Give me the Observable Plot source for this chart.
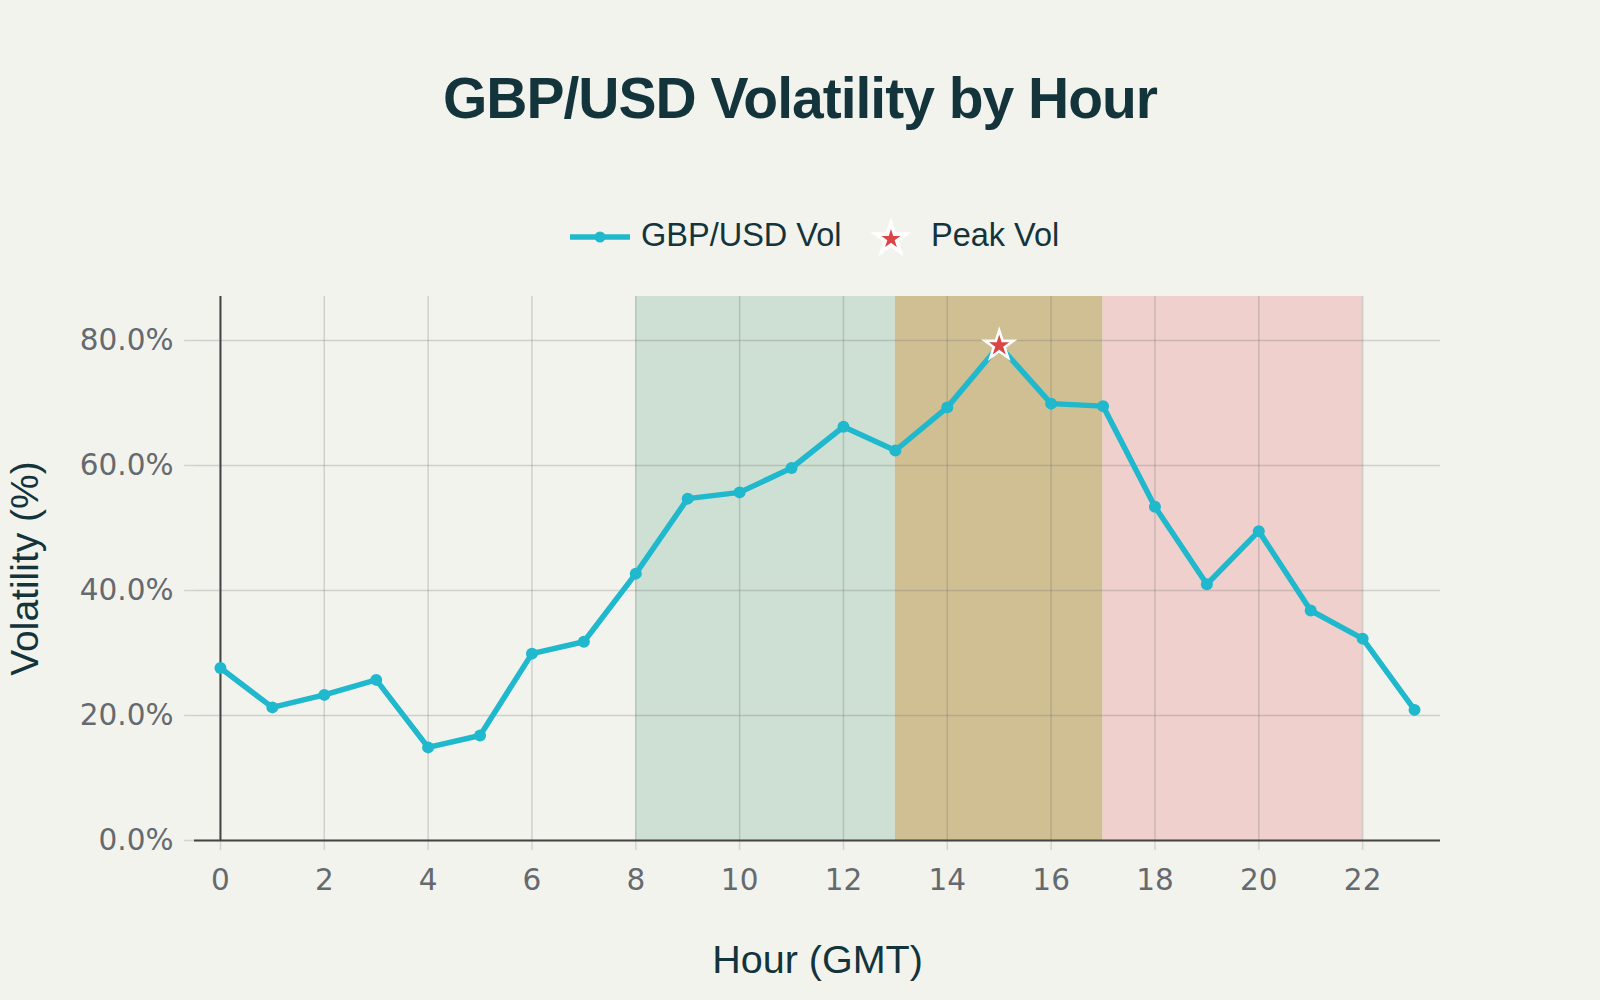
<!DOCTYPE html>
<html>
<head>
<meta charset="utf-8">
<script src="https://cdn.jsdelivr.net/npm/d3@7"></script>
<script src="https://cdn.jsdelivr.net/npm/@observablehq/plot@0.6"></script>
<style>
  html, body { margin: 0; padding: 0; background: #f3f3ee; }
  #wrap { position: relative; width: 1600px; height: 1000px; overflow: hidden;
          font-family: "Liberation Sans", Arial, sans-serif; color: #13343b; }
  #title { position: absolute; left: 0; top: 70px; width: 1600px; text-align: center;
           font-size: 57px; line-height: 57px; font-weight: bold; letter-spacing: -1px; }
  .leg { position: absolute; font-size: 32.5px; line-height: 32.5px; top: 219px; white-space: nowrap; }
  .legsw { position: absolute; }
  #chart { position: absolute; left: 0; top: 270px; }
</style>
</head>
<body>
<div id="wrap">
  <div id="title">GBP/USD Volatility by Hour</div>
  <svg class="legsw" id="sw1" style="left:568px;top:217px" width="64" height="40"></svg>
  <div class="leg" style="left:641px">GBP/USD Vol</div>
  <svg class="legsw" id="sw2" style="left:867px;top:213px" width="48" height="48"></svg>
  <div class="leg" style="left:931px">Peak Vol</div>
  <div id="chart"></div>
</div>
<script>
// ---- data ----
const hours = [0,1,2,3,4,5,6,7,8,9,10,11,12,13,14,15,16,17,18,19,20,21,22,23];
const vol = [27.6,21.3,23.3,25.7,14.9,16.8,29.9,31.8,42.7,54.7,55.7,59.6,66.2,62.4,69.3,79.2,69.9,69.5,53.4,41.0,49.5,36.8,32.3,20.9];
const sessionStart = [8, 13, 17];
const sessionEnd = [13, 17, 22];
const xTicks = [0,2,4,6,8,10,12,14,16,18,20,22];
const yTicks = [0,20,40,60,80];

const sessionFill = ["#cee0d3", "#d0bf93", "#efd0cd"];
const lineColor = "#1FB8CD";
const starColor = "#DB4545";
const textColor = "#13343b";
const font = '"Liberation Sans", Arial, sans-serif';
const tickFont = '"DejaVu Sans", sans-serif';

const data = hours.map((h, i) => ({hour: h, vol: vol[i]}));
const peak = data[d3.maxIndex(vol)];
const sessions = sessionStart.map((s, i) => ({x1: s, x2: sessionEnd[i], fill: sessionFill[i]}));

const gridStyle = {stroke: "#6e6e6e", strokeOpacity: 0.27, strokeWidth: 1.5};

const chart = Plot.plot({
  width: 1600,
  height: 730,
  marginLeft: 194,
  marginRight: 160,
  marginTop: 26,
  marginBottom: 160,
  style: {background: "transparent", fontFamily: font, fontSize: "30px", overflow: "visible"},
  x: {domain: [-0.5, 23.5]},
  y: {domain: [0, 87.04]},
  marks: [
    ...sessions.map(s => Plot.rect([s], {x1: "x1", x2: "x2", fill: s.fill})),
    Plot.gridX({ticks: xTicks, ...gridStyle}),
    Plot.gridY({ticks: yTicks, ...gridStyle}),
    Plot.axisX({ticks: xTicks, tickSize: 10, tickPadding: 19, stroke: "#d3d3cf", strokeWidth: 1.5,
                color: "#656a6f", fontSize: 29.5, fontFamily: tickFont, label: null}),
    Plot.axisY({ticks: yTicks, tickSize: 10, tickPadding: 11, stroke: "#d3d3cf", strokeWidth: 1.5,
                color: "#656a6f", fontSize: 29.5, fontFamily: tickFont, label: null,
                tickFormat: d => d.toFixed(1) + "%"}),
    Plot.ruleX([0], {stroke: "#444", strokeWidth: 2}),
    Plot.ruleY([0], {stroke: "#444", strokeWidth: 2}),
    Plot.line(data, {x: "hour", y: "vol", stroke: lineColor, strokeWidth: 5.5, strokeLinejoin: "round"}),
    Plot.dot(data, {x: "hour", y: "vol", r: 6, fill: lineColor}),
    Plot.dot([peak], {x: "hour", y: "vol", symbol: "star", r: 9, fill: starColor, stroke: "white", strokeWidth: 2.6}),
    Plot.text(["Hour (GMT)"], {text: d => d, frameAnchor: "bottom", dy: 120, lineAnchor: "middle",
                               textAnchor: "middle", fontSize: 39.5, fill: textColor}),
    Plot.text(["Volatility (%)"], {text: d => d, frameAnchor: "left", rotate: -90, dx: -169, dy: 0,
                                   lineAnchor: "middle", textAnchor: "middle", fontSize: 39, fill: textColor})
  ]
});
document.getElementById("chart").appendChild(chart);

// ---- legend swatches ----
const sw1 = d3.select("#sw1");
sw1.append("line").attr("x1", 2).attr("x2", 62).attr("y1", 20).attr("y2", 20)
  .attr("stroke", lineColor).attr("stroke-width", 5.5);
sw1.append("circle").attr("cx", 32).attr("cy", 20).attr("r", 5.5).attr("fill", lineColor);

const sw2 = d3.select("#sw2");
sw2.append("path")
  .attr("d", d3.symbol().type(d3.symbolStar).size(Math.PI * 9.5 * 9.5)())
  .attr("transform", "translate(24,26)")
  .attr("fill", starColor).attr("stroke", "white").attr("stroke-width", 3.6);
</script>
</body>
</html>
